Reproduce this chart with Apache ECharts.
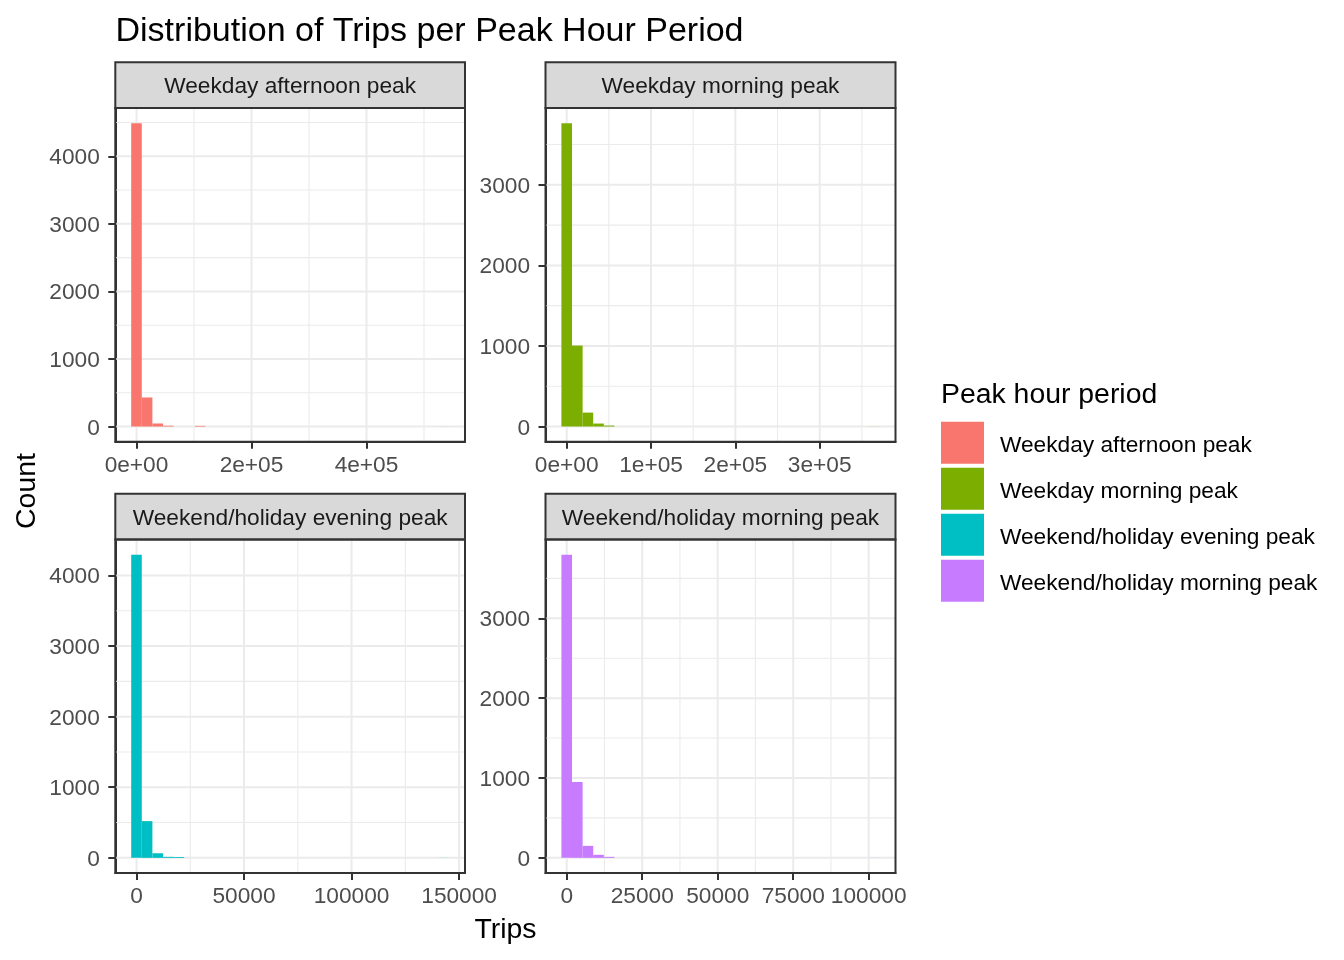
<!DOCTYPE html>
<html><head><meta charset="utf-8">
<script src="https://cdn.jsdelivr.net/npm/echarts@6/dist/echarts.min.js"></script>
<style>html,body{margin:0;padding:0;background:#fff}#c{width:1344px;height:960px}</style>
</head><body><div id="c"></div>
<script>
// ---------- data ----------
const categories = ['Weekday afternoon peak', 'Weekday morning peak', 'Weekend/holiday evening peak', 'Weekend/holiday morning peak'];
const colors = ['#F8766D', '#7CAE00', '#00BFC4', '#C77CFF'];
const binWidths = [18430, 12577, 4927, 3512];
const countsWeekdayAfternoon = [4490, 430, 45, 12, 0, 0, 10, 0, 0, 0, 0, 0, 0, 0, 0, 0, 0, 0, 0, 0, 0, 0, 0, 0, 0, 0, 0, 0, 0, 1];
const countsWeekdayMorning   = [3765, 1005, 173, 37, 12, 0, 0, 0, 0, 0, 0, 0, 0, 0, 0, 0, 0, 0, 0, 0, 0, 0, 0, 0, 0, 0, 0, 0, 0, 1];
const countsWeekendEvening   = [4294, 520, 65, 14, 12, 0, 0, 0, 0, 0, 0, 0, 0, 0, 0, 0, 0, 0, 0, 0, 0, 0, 0, 0, 0, 0, 0, 0, 0, 1];
const countsWeekendMorning   = [3797, 950, 150, 38, 12, 0, 0, 0, 0, 0, 0, 0, 0, 0, 0, 0, 0, 0, 0, 0, 0, 0, 0, 0, 0, 0, 0, 0, 0, 1];

const xTicks = [[0, 200000, 400000], [0, 100000, 200000, 300000], [0, 50000, 100000, 150000], [0, 25000, 50000, 75000, 100000]];
const xTickLabels = [['0e+00', '2e+05', '4e+05'], ['0e+00', '1e+05', '2e+05', '3e+05'], ['0', '50000', '100000', '150000'], ['0', '25000', '50000', '75000', '100000']];
const xMinor = [[100000, 300000, 500000], [50000, 150000, 250000, 350000], [25000, 75000, 125000], [12500, 37500, 62500, 87500]];
const yTicks = [[0, 1000, 2000, 3000, 4000], [0, 1000, 2000, 3000], [0, 1000, 2000, 3000, 4000], [0, 1000, 2000, 3000]];
const yTickLabels = [['0', '1000', '2000', '3000', '4000'], ['0', '1000', '2000', '3000'], ['0', '1000', '2000', '3000', '4000'], ['0', '1000', '2000', '3000']];
const yMinor = [[500, 1500, 2500, 3500, 4500], [500, 1500, 2500, 3500], [500, 1500, 2500, 3500, 4500], [500, 1500, 2500, 3500]];

const allCounts = [countsWeekdayAfternoon, countsWeekdayMorning, countsWeekendEvening, countsWeekendMorning];

// ---------- layout ----------
const F = "'Liberation Sans', Arial, sans-serif";
const layout = [
  {left: 115.3, top: 108, width: 349.7, height: 333.7},
  {left: 545.5, top: 108, width: 350, height: 333.7},
  {left: 115.3, top: 539.5, width: 349.7, height: 333.5},
  {left: 545.5, top: 539.5, width: 350, height: 333.5}
];
const stripH = 45.7;
const axisLineStyle = {color: '#333333', width: 2};
const tickFont = {fontSize: 22.7, fontFamily: F, color: '#4D4D4D'};

const grids = [], xAxes = [], yAxes = [], series = [], graphics = [];

layout.forEach((L, i) => {
  const counts = allCounts[i];
  const w = binWidths[i];
  const n = counts.length;
  const lo = -0.5 * w, hi = (n - 0.5) * w;
  const xMin = lo - 0.05 * (hi - lo), xMax = hi + 0.05 * (hi - lo);
  const cMax = Math.max(...counts);
  const yMin = -0.05 * cMax, yMax = 1.05 * cMax;

  grids.push({left: L.left, top: L.top, width: L.width, height: L.height, show: false, containLabel: false, outerBoundsMode: 'none'});
  xAxes.push({
    gridIndex: i, type: 'value', min: xMin, max: xMax, position: 'bottom',
    axisLine: {show: true, onZero: false, lineStyle: axisLineStyle}, splitLine: {show: false},
    axisTick: {show: true, inside: false, customValues: xTicks[i], length: 7, lineStyle: axisLineStyle},
    axisLabel: Object.assign({customValues: xTicks[i], margin: 12.7,
      formatter: v => { const k = xTicks[i].indexOf(v); return k >= 0 ? xTickLabels[i][k] : ''; }}, tickFont)
  });
  yAxes.push({
    gridIndex: i, type: 'value', min: yMin, max: yMax, position: 'left',
    axisLine: {show: true, onZero: false, lineStyle: axisLineStyle}, splitLine: {show: false},
    axisTick: {show: true, inside: false, customValues: yTicks[i], length: 7, lineStyle: axisLineStyle},
    axisLabel: Object.assign({customValues: yTicks[i], margin: 15.5,
      rich: {t: Object.assign({padding: [3.6, 0, 0, 0]}, tickFont)},
      formatter: v => { const k = yTicks[i].indexOf(v); return k >= 0 ? '{t|' + yTickLabels[i][k] + '}' : ''; }}, tickFont)
  });

  // gridlines (minor first, then major)
  const gdata = [];
  xMinor[i].forEach(v => gdata.push([v, 0, 0]));
  yMinor[i].forEach(v => { if (v > yMin && v < yMax) gdata.push([v, 1, 0]); });
  xTicks[i].forEach(v => gdata.push([v, 0, 1]));
  yTicks[i].forEach(v => gdata.push([v, 1, 1]));
  series.push({
    type: 'custom', xAxisIndex: i, yAxisIndex: i, silent: true, z: 1,
    encode: {x: 0, y: 1},
    data: gdata,
    renderItem: (params, api) => {
      const v = api.value(0), dir = api.value(1), major = api.value(2);
      const cs = params.coordSys;
      let shape;
      if (dir === 0) {
        const x = api.coord([v, 0])[0];
        shape = {x1: x, y1: cs.y, x2: x, y2: cs.y + cs.height};
      } else {
        const y = api.coord([0, v])[1];
        shape = {x1: cs.x, y1: y, x2: cs.x + cs.width, y2: y};
      }
      return {type: 'line', shape, style: {stroke: '#EBEBEB', lineWidth: major ? 2 : 1.1}};
    }
  });

  // histogram bars
  const bdata = counts.map((c, k) => [(k - 0.5) * w, (k + 0.5) * w, c]);
  series.push({
    name: categories[i], type: 'custom', xAxisIndex: i, yAxisIndex: i, z: 2, silent: true,
    itemStyle: {color: colors[i]},
    encode: {x: [0, 1], y: 2},
    data: bdata,
    renderItem: (params, api) => {
      const c = api.value(2);
      if (!c) return null;
      const p0 = api.coord([api.value(0), c]);
      const p1 = api.coord([api.value(1), 0]);
      return {type: 'rect', shape: {x: p0[0], y: p0[1], width: p1[0] - p0[0], height: p1[1] - p0[1]}, style: {fill: colors[i]}};
    }
  });

  // strip
  graphics.push({type: 'rect', z: 50, shape: {x: L.left, y: L.top - stripH, width: L.width, height: stripH},
    style: {fill: '#D9D9D9', stroke: '#333333', lineWidth: 2}});
  graphics.push({type: 'text', z: 51, x: L.left + L.width / 2, y: L.top - stripH / 2 + 1.7,
    style: {text: categories[i], fontSize: 22.7, fontFamily: F, fill: '#1A1A1A', align: 'center', verticalAlign: 'middle', textAlign: 'center', textVerticalAlign: 'middle'}});
  // panel border
  graphics.push({type: 'rect', z: 100, shape: {x: L.left, y: L.top, width: L.width, height: L.height},
    style: {fill: 'none', stroke: '#333333', lineWidth: 2}});
});

// titles
graphics.push({type: 'text', z: 60, x: 115.5, y: 31.3,
  style: {text: 'Distribution of Trips per Peak Hour Period', fontSize: 34, fontFamily: F, fill: '#000', align: 'left', verticalAlign: 'middle', textAlign: 'left', textVerticalAlign: 'middle'}});
graphics.push({type: 'text', z: 60, x: 26.7, y: 491, rotation: Math.PI / 2,
  style: {text: 'Count', fontSize: 28.4, fontFamily: F, fill: '#000', align: 'center', verticalAlign: 'middle', textAlign: 'center', textVerticalAlign: 'middle'}});
graphics.push({type: 'text', z: 60, x: 505.4, y: 930.4,
  style: {text: 'Trips', fontSize: 28.4, fontFamily: F, fill: '#000', align: 'center', verticalAlign: 'middle', textAlign: 'center', textVerticalAlign: 'middle'}});
graphics.push({type: 'text', z: 60, x: 941, y: 394.7,
  style: {text: 'Peak hour period', fontSize: 28.4, fontFamily: F, fill: '#000', align: 'left', verticalAlign: 'middle', textAlign: 'left', textVerticalAlign: 'middle'}});

const chart = echarts.init(document.getElementById('c'), null, {renderer: 'canvas'});
chart.setOption({
  animation: false,
  backgroundColor: '#FFFFFF',
  grid: grids, xAxis: xAxes, yAxis: yAxes, series: series,
  legend: {
    orient: 'vertical', left: 941, top: 421.7, itemWidth: 43, itemHeight: 42, itemGap: 4,
    icon: 'rect', selectedMode: false, data: categories, padding: 0,
    formatter: name => '{t|' + name + '}',
    textStyle: {fontSize: 22.7, fontFamily: F, color: '#000',
      rich: {t: {fontSize: 22.7, fontFamily: F, color: '#000', padding: [6.4, 0, 0, 11]}}}
  },
  graphic: {elements: graphics}
});
</script></body></html>
